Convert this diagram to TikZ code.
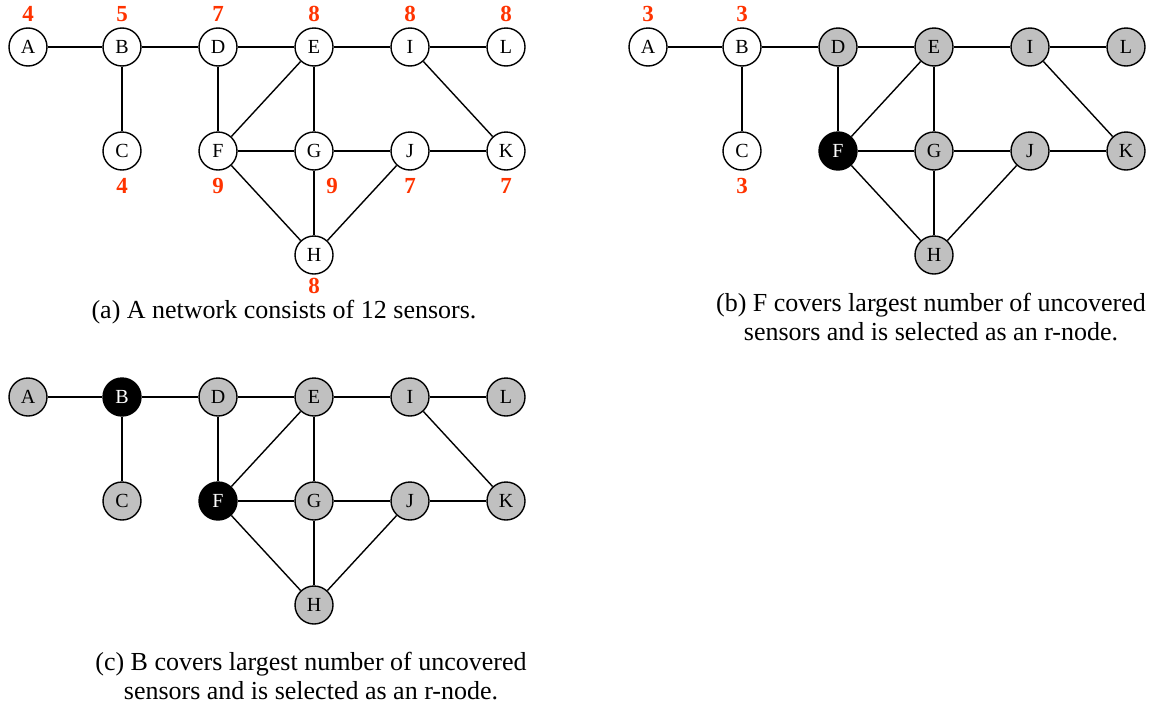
\documentclass[tikz,border=0pt]{standalone}
\usepackage{fontspec}
\setmainfont{Liberation Serif}
\definecolor{numred}{HTML}{FF3300}
\definecolor{covgray}{HTML}{C0C0C0}
\newcommand\graphbody[1]{%
 \node[nd,nA] (#1A) at (0,0) {A};
 \node[nd,nB] (#1B) at (94,0) {B};
 \node[nd,nD] (#1D) at (190,0) {D};
 \node[nd,nE] (#1E) at (286,0) {E};
 \node[nd,nI] (#1I) at (382,0) {I};
 \node[nd,nL] (#1L) at (478,0) {L};
 \node[nd,nC] (#1C) at (94,104) {C};
 \node[nd,nF] (#1F) at (190,104) {F};
 \node[nd,nG] (#1G) at (286,104) {G};
 \node[nd,nJ] (#1J) at (382,104) {J};
 \node[nd,nK] (#1K) at (478,104) {K};
 \node[nd,nH] (#1H) at (286,208) {H};
 \draw[edge] (#1A) -- (#1B);
 \draw[edge] (#1B) -- (#1D);
 \draw[edge] (#1D) -- (#1E);
 \draw[edge] (#1E) -- (#1I);
 \draw[edge] (#1I) -- (#1L);
 \draw[edge] (#1B) -- (#1C);
 \draw[edge] (#1D) -- (#1F);
 \draw[edge] (#1E) -- (#1F);
 \draw[edge] (#1E) -- (#1G);
 \draw[edge] (#1F) -- (#1G);
 \draw[edge] (#1G) -- (#1J);
 \draw[edge] (#1J) -- (#1K);
 \draw[edge] (#1I) -- (#1K);
 \draw[edge] (#1F) -- (#1H);
 \draw[edge] (#1G) -- (#1H);
 \draw[edge] (#1J) -- (#1H);
}
\begin{document}
\begin{tikzpicture}[x=1pt,y=-1pt,
  nd/.style={circle,draw=black,line width=1.4pt,minimum size=38pt,inner sep=0pt,fill=white,font=\fontsize{20}{20}\selectfont},
  wn/.style={fill=white},
  gn/.style={fill=covgray},
  bn/.style={fill=black,text=white},
  edge/.style={line width=1.4pt,black},
  num/.style={text=numred,font=\fontsize{23}{23}\selectfont\bfseries,inner sep=0pt},
  captxt/.style={font=\fontsize{26}{29}\selectfont,align=center,inner sep=0pt}]
\useasboundingbox (0,0) rectangle (1155,707);
% (a)
\begin{scope}[shift={(28,47)},nA/.style=wn,nB/.style=wn,nC/.style=wn,nD/.style=wn,nE/.style=wn,nF/.style=wn,nG/.style=wn,nH/.style=wn,nI/.style=wn,nJ/.style=wn,nK/.style=wn,nL/.style=wn]
\graphbody{a}
\end{scope}
\node[num] (na1) at (28,14) {4};
\node[num] (na2) at (122,14) {5};
\node[num] (na3) at (218,14) {7};
\node[num] (na4) at (314,14) {8};
\node[num] (na5) at (410,14) {8};
\node[num] (na6) at (506,14) {8};
\node[num] (na7) at (122,186) {4};
\node[num] (na8) at (218,186) {9};
\node[num] (na9) at (332,186) {9};
\node[num] (na10) at (410,186) {7};
\node[num] (na11) at (506,186) {7};
\node[num] (na12) at (314,286) {8};
\node[captxt] (capa) at (284,312) {(a) A network consists of 12 sensors.};
% (b)
\begin{scope}[shift={(648,47)},nA/.style=wn,nB/.style=wn,nC/.style=wn,nD/.style=gn,nE/.style=gn,nF/.style=bn,nG/.style=gn,nH/.style=gn,nI/.style=gn,nJ/.style=gn,nK/.style=gn,nL/.style=gn]
\graphbody{b}
\end{scope}
\node[num] (nb1) at (648,14) {3};
\node[num] (nb2) at (742,14) {3};
\node[num] (nb3) at (742,186) {3};
\node[captxt] (capb) at (931,317) {(b) F covers largest number of uncovered\\sensors and is selected as an r-node.};
% (c)
\begin{scope}[shift={(28,397)},nA/.style=gn,nB/.style=bn,nC/.style=gn,nD/.style=gn,nE/.style=gn,nF/.style=bn,nG/.style=gn,nH/.style=gn,nI/.style=gn,nJ/.style=gn,nK/.style=gn,nL/.style=gn]
\graphbody{c}
\end{scope}
\node[captxt] (capc) at (311,676) {(c) B covers largest number of uncovered\\sensors and is selected as an r-node.};
\end{tikzpicture}
\end{document}
